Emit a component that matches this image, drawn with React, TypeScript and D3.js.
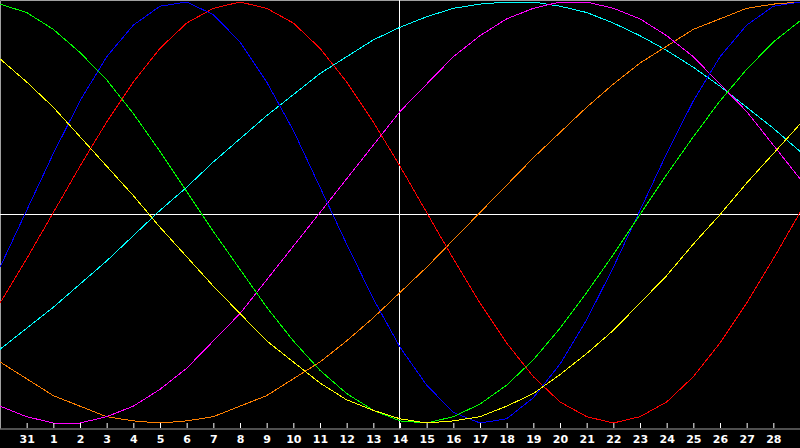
import React, { useEffect, useRef } from 'react';
import * as d3 from 'd3';

// day labels, one per tick (index 1..29); index 0 and 30 sit on the frame edges
const dayLabels = [
  '31', '1', '2', '3', '4', '5', '6', '7', '8', '9', '10', '11', '12', '13', '14',
  '15', '16', '17', '18', '19', '20', '21', '22', '23', '24', '25', '26', '27', '28',
];

// values per day index 0..30, scaled -100..100
const physical = [-26, 1, 28, 53, 74, 89, 98, 100, 94, 81, 62, 39, 12, -15, -41, -64, -82, -95, -100, -98, -88, -72, -51, -26, 1, 28, 53, 74, 89, 98, 100];
const emotional = [-43, -22, 0, 22, 43, 62, 78, 90, 97, 100, 97, 90, 78, 62, 43, 22, 0, -22, -43, -62, -78, -90, -97, -100, -97, -90, -78, -62, -43, -22, 0];
const intellectual = [99, 95, 87, 76, 63, 47, 29, 10, -9, -27, -45, -61, -75, -86, -94, -99, -100, -97, -91, -82, -70, -55, -38, -20, -1, 18, 36, 53, 68, 81, 91];
const intuitive = [-92, -97, -100, -100, -97, -92, -84, -74, -61, -48, -32, -16, 0, 16, 32, 48, 61, 74, 84, 92, 97, 100, 100, 97, 92, 84, 74, 61, 48, 32, 16];
const aesthetic = [73, 62, 50, 36, 22, 8, -7, -21, -35, -48, -61, -71, -81, -89, -94, -98, -100, -99, -97, -92, -86, -77, -67, -56, -43, -30, -15, -1, 14, 28, 42];
const awareness = [-71, -79, -87, -92, -97, -99, -100, -99, -97, -92, -87, -79, -71, -61, -50, -38, -26, -13, 0, 13, 26, 38, 50, 61, 71, 79, 87, 92, 97, 99, 100];
const spiritual = [-65, -55, -45, -34, -23, -11, 1, 12, 24, 35, 46, 56, 66, 74, 82, 88, 93, 97, 99, 100, 100, 98, 95, 90, 84, 77, 69, 60, 50, 40, 29];

const series = [
  { values: spiritual, color: '#00ffff' },
  { values: awareness, color: '#ff8000' },
  { values: intuitive, color: '#ff00ff' },
  { values: emotional, color: '#ff0000' },
  { values: physical, color: '#0000ff' },
  { values: intellectual, color: '#00ff00' },
  { values: aesthetic, color: '#ffff00' },
];

const W = 800;
const H = 448;
const axisY = 428.5;

const App: React.FC = () => {
  const svgRef = useRef<SVGSVGElement>(null);

  useEffect(() => {
    if (!svgRef.current) return;
    const svg = d3.select(svgRef.current);
    svg.selectAll('*').remove();

    const x = d3.scaleLinear().domain([0, 30]).range([0, W]);
    const y = d3.scaleLinear().domain([-100, 100]).range([423, 2]);

    svg.append('rect').attr('width', W).attr('height', H).attr('fill', '#000');

    // frame (top and left edges)
    svg.append('path')
      .attr('d', `M0.5,${axisY}V0.5H${W}`)
      .attr('fill', 'none')
      .attr('stroke', '#a0a0a0')
      .attr('stroke-width', 1);

    // crosshair
    svg.append('line')
      .attr('x1', 0).attr('x2', W)
      .attr('y1', 214.5).attr('y2', 214.5)
      .attr('stroke', '#fff');
    svg.append('line')
      .attr('x1', x(15) - 0.5).attr('x2', x(15) - 0.5)
      .attr('y1', 0).attr('y2', axisY)
      .attr('stroke', '#fff');

    const line = d3.line<number>()
      .x((_, i) => x(i))
      .y(d => y(d));

    series.forEach(s => {
      svg.append('path')
        .datum(s.values)
        .attr('d', line)
        .attr('fill', 'none')
        .attr('stroke', s.color)
        .attr('stroke-width', 1)
        .attr('shape-rendering', 'crispEdges');
    });

    // bottom axis
    const axis = d3.axisBottom(x)
      .tickValues(d3.range(1, 30))
      .tickSize(5)
      .tickSizeOuter(0)
      .tickFormat((d: any) => dayLabels[(d as number) - 1]);

    const g = svg.append('g')
      .attr('transform', `translate(0,${axisY})`)
      .call(axis);
    g.select('.domain').attr('stroke', '#a0a0a0').attr('d', `M0,0.5H${W}`);
    g.selectAll('.tick line')
      .attr('stroke', '#fff')
      .attr('y1', -0.5)
      .attr('y2', -5.5);
    g.selectAll('.tick text')
      .attr('fill', '#fff')
      .attr('y', 7)
      .attr('font-family', '"DejaVu Sans", sans-serif')
      .attr('font-weight', 'bold')
      .attr('font-size', 11);
  }, []);

  return (
    <>
      <style>{'body{margin:0;background:#000}'}</style>
      <svg ref={svgRef} width={W} height={H} style={{ display: 'block' }} />
    </>
  );
};

export default App;
